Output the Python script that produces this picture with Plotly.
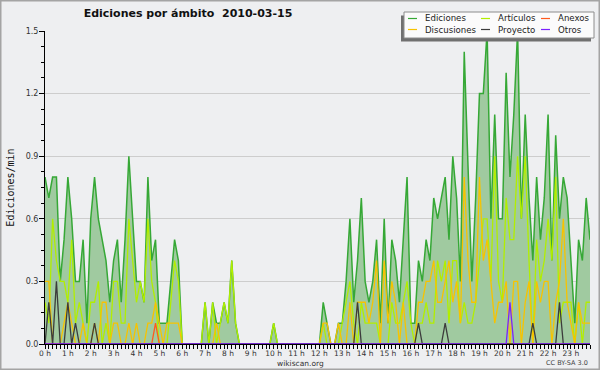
import plotly.graph_objects as go

# ---------------- data (values in edits per minute, 10-minute steps) ----------------
DAY = "2010-03-15"
times = [f"{DAY} {i // 6:02d}:{(i % 6) * 10:02d}" for i in range(144)]
hour_labels = [f"{h} h" for h in range(24)]
y_ticks = [0.0, 0.3, 0.6, 0.9, 1.2, 1.5]

ediciones = [
    0.8, 0.7, 0.8, 0.8, 0.3, 0.5, 0.8, 0.6, 0.3, 0.3, 0.5, 0.1,
    0.6, 0.8, 0.6, 0.5, 0.4, 0.2, 0.4, 0.5, 0.2, 0.5, 0.9, 0.6,
    0.3, 0.3, 0.2, 0.8, 0.4, 0.5, 0.1, 0.1, 0.1, 0.3, 0.5, 0.4,
    0.0, 0.0, 0.0, 0.0, 0.0, 0.0, 0.2, 0.0, 0.2, 0.1, 0.1, 0.2,
    0.1, 0.4, 0.1, 0.0, 0.0, 0.0, 0.0, 0.0, 0.0, 0.0, 0.0, 0.0,
    0.1, 0.0, 0.0, 0.0, 0.0, 0.0, 0.0, 0.0, 0.0, 0.0, 0.0, 0.0,
    0.0, 0.2, 0.1, 0.0, 0.0, 0.1, 0.1, 0.3, 0.6, 0.2, 0.4, 0.7,
    0.3, 0.2, 0.3, 0.5, 0.1, 0.6, 0.1, 0.5, 0.4, 0.2, 0.5, 0.8,
    0.1, 0.1, 0.4, 0.3, 0.5, 0.4, 0.7, 0.6, 0.7, 0.8, 0.5, 0.9,
    0.7, 0.3, 1.4, 0.8, 0.3, 0.7, 1.2, 1.2, 1.5, 0.6, 1.1, 0.6,
    0.6, 1.3, 0.8, 1.1, 1.5, 0.6, 1.1, 0.7, 0.4, 0.8, 0.5, 0.7,
    1.1, 0.4, 1.0, 0.6, 0.8, 0.7, 0.4, 0.1, 0.5, 0.4, 0.7, 0.5,
]

articulos = [
    0.2, 0.1, 0.6, 0.4, 0.3, 0.3, 0.2, 0.5, 0.1, 0.2, 0.1, 0.0,
    0.2, 0.2, 0.3, 0.0, 0.1, 0.0, 0.3, 0.3, 0.1, 0.1, 0.6, 0.4,
    0.2, 0.3, 0.2, 0.6, 0.3, 0.2, 0.0, 0.0, 0.0, 0.2, 0.4, 0.3,
    0.0, 0.0, 0.0, 0.0, 0.0, 0.0, 0.2, 0.0, 0.2, 0.0, 0.1, 0.2,
    0.1, 0.4, 0.1, 0.0, 0.0, 0.0, 0.0, 0.0, 0.0, 0.0, 0.0, 0.0,
    0.1, 0.0, 0.0, 0.0, 0.0, 0.0, 0.0, 0.0, 0.0, 0.0, 0.0, 0.0,
    0.0, 0.1, 0.0, 0.0, 0.0, 0.0, 0.1, 0.2, 0.3, 0.1, 0.0, 0.2,
    0.1, 0.1, 0.1, 0.1, 0.0, 0.0, 0.0, 0.2, 0.1, 0.1, 0.2, 0.3,
    0.1, 0.0, 0.1, 0.1, 0.2, 0.1, 0.1, 0.4, 0.3, 0.4, 0.1, 0.4,
    0.4, 0.1, 0.2, 0.1, 0.1, 0.2, 0.4, 0.6, 0.6, 0.3, 0.9, 0.3,
    0.2, 0.7, 0.5, 0.5, 0.9, 0.6, 0.9, 0.4, 0.0, 0.5, 0.3, 0.4,
    0.6, 0.4, 0.8, 0.1, 0.2, 0.2, 0.2, 0.0, 0.2, 0.0, 0.2, 0.2,
]

discusiones = [
    0.3, 0.3, 0.0, 0.0, 0.0, 0.1, 0.2, 0.1, 0.0, 0.0, 0.1, 0.0,
    0.0, 0.1, 0.0, 0.2, 0.2, 0.0, 0.1, 0.1, 0.0, 0.0, 0.1, 0.0,
    0.1, 0.0, 0.0, 0.1, 0.1, 0.2, 0.1, 0.0, 0.1, 0.1, 0.1, 0.1,
    0.0, 0.0, 0.0, 0.0, 0.0, 0.0, 0.0, 0.0, 0.0, 0.1, 0.0, 0.0,
    0.0, 0.0, 0.0, 0.0, 0.0, 0.0, 0.0, 0.0, 0.0, 0.0, 0.0, 0.0,
    0.0, 0.0, 0.0, 0.0, 0.0, 0.0, 0.0, 0.0, 0.0, 0.0, 0.0, 0.0,
    0.0, 0.1, 0.1, 0.0, 0.0, 0.1, 0.0, 0.0, 0.2, 0.0, 0.2, 0.2,
    0.2, 0.1, 0.2, 0.4, 0.0, 0.4, 0.1, 0.3, 0.2, 0.0, 0.2, 0.0,
    0.0, 0.0, 0.2, 0.2, 0.3, 0.3, 0.4, 0.2, 0.2, 0.3, 0.4, 0.2,
    0.3, 0.1, 0.8, 0.4, 0.2, 0.2, 0.8, 0.4, 0.5, 0.3, 0.1, 0.2,
    0.2, 0.3, 0.0, 0.3, 0.3, 0.0, 0.2, 0.3, 0.0, 0.3, 0.2, 0.3,
    0.3, 0.0, 0.2, 0.3, 0.6, 0.2, 0.1, 0.0, 0.2, 0.1, 0.1, 0.1,
]

anexos = [
    0.0, 0.0, 0.0, 0.0, 0.0, 0.0, 0.0, 0.0, 0.0, 0.0, 0.0, 0.0,
    0.0, 0.0, 0.0, 0.0, 0.0, 0.0, 0.0, 0.0, 0.0, 0.0, 0.0, 0.0,
    0.0, 0.0, 0.0, 0.0, 0.0, 0.1, 0.0, 0.0, 0.0, 0.0, 0.0, 0.0,
    0.0, 0.0, 0.0, 0.0, 0.0, 0.0, 0.0, 0.0, 0.0, 0.0, 0.0, 0.0,
    0.0, 0.0, 0.0, 0.0, 0.0, 0.0, 0.0, 0.0, 0.0, 0.0, 0.0, 0.0,
    0.0, 0.0, 0.0, 0.0, 0.0, 0.0, 0.0, 0.0, 0.0, 0.0, 0.0, 0.0,
    0.0, 0.0, 0.0, 0.0, 0.0, 0.0, 0.0, 0.0, 0.0, 0.0, 0.0, 0.0,
    0.0, 0.0, 0.0, 0.0, 0.0, 0.0, 0.0, 0.0, 0.0, 0.0, 0.0, 0.0,
    0.0, 0.0, 0.0, 0.0, 0.0, 0.0, 0.0, 0.0, 0.0, 0.0, 0.0, 0.0,
    0.0, 0.0, 0.0, 0.0, 0.0, 0.0, 0.0, 0.0, 0.0, 0.0, 0.0, 0.0,
    0.0, 0.0, 0.0, 0.0, 0.0, 0.0, 0.0, 0.0, 0.0, 0.0, 0.0, 0.0,
    0.0, 0.0, 0.0, 0.0, 0.0, 0.0, 0.0, 0.0, 0.0, 0.0, 0.0, 0.0,
]

proyecto = [
    0.0, 0.2, 0.0, 0.3, 0.0, 0.0, 0.2, 0.0, 0.1, 0.0, 0.0, 0.0,
    0.0, 0.1, 0.0, 0.0, 0.0, 0.0, 0.0, 0.0, 0.0, 0.0, 0.0, 0.0,
    0.0, 0.0, 0.0, 0.0, 0.0, 0.0, 0.0, 0.0, 0.0, 0.0, 0.0, 0.0,
    0.0, 0.0, 0.0, 0.0, 0.0, 0.0, 0.0, 0.0, 0.0, 0.0, 0.0, 0.0,
    0.0, 0.0, 0.0, 0.0, 0.0, 0.0, 0.0, 0.0, 0.0, 0.0, 0.0, 0.0,
    0.0, 0.0, 0.0, 0.0, 0.0, 0.0, 0.0, 0.0, 0.0, 0.0, 0.0, 0.0,
    0.0, 0.0, 0.0, 0.0, 0.0, 0.0, 0.0, 0.0, 0.0, 0.0, 0.2, 0.0,
    0.0, 0.0, 0.0, 0.0, 0.0, 0.0, 0.0, 0.0, 0.0, 0.0, 0.0, 0.0,
    0.0, 0.0, 0.1, 0.0, 0.0, 0.0, 0.0, 0.0, 0.0, 0.1, 0.0, 0.0,
    0.0, 0.0, 0.0, 0.0, 0.0, 0.0, 0.0, 0.0, 0.0, 0.0, 0.0, 0.0,
    0.0, 0.0, 0.0, 0.0, 0.0, 0.0, 0.0, 0.0, 0.1, 0.0, 0.0, 0.0,
    0.0, 0.0, 0.0, 0.2, 0.0, 0.0, 0.0, 0.0, 0.0, 0.0, 0.0, 0.0,
]

otros = [
    0.0, 0.0, 0.0, 0.0, 0.0, 0.0, 0.0, 0.0, 0.0, 0.0, 0.0, 0.0,
    0.0, 0.0, 0.0, 0.0, 0.0, 0.0, 0.0, 0.0, 0.0, 0.0, 0.0, 0.0,
    0.0, 0.0, 0.0, 0.0, 0.0, 0.0, 0.0, 0.0, 0.0, 0.0, 0.0, 0.0,
    0.0, 0.0, 0.0, 0.0, 0.0, 0.0, 0.0, 0.0, 0.0, 0.0, 0.0, 0.0,
    0.0, 0.0, 0.0, 0.0, 0.0, 0.0, 0.0, 0.0, 0.0, 0.0, 0.0, 0.0,
    0.0, 0.0, 0.0, 0.0, 0.0, 0.0, 0.0, 0.0, 0.0, 0.0, 0.0, 0.0,
    0.0, 0.0, 0.0, 0.0, 0.0, 0.0, 0.0, 0.0, 0.0, 0.0, 0.0, 0.0,
    0.0, 0.0, 0.0, 0.0, 0.0, 0.0, 0.0, 0.0, 0.0, 0.0, 0.0, 0.0,
    0.0, 0.0, 0.0, 0.0, 0.0, 0.0, 0.0, 0.0, 0.0, 0.0, 0.0, 0.0,
    0.0, 0.0, 0.0, 0.0, 0.0, 0.0, 0.0, 0.0, 0.0, 0.0, 0.0, 0.0,
    0.0, 0.0, 0.2, 0.0, 0.0, 0.0, 0.0, 0.0, 0.0, 0.0, 0.0, 0.0,
    0.0, 0.0, 0.0, 0.0, 0.0, 0.0, 0.0, 0.0, 0.0, 0.0, 0.0, 0.0,
]

# ---------------- styling ----------------
W, H = 600, 370
ML, MR, MT, MB = 45, 10, 31, 26
PW, PH = W - ML - MR, H - MT - MB
BG = "#eeeff1"
FONT = "DejaVu Sans"

def px(x):
    return (x - ML) / PW

def py(y):
    return (MT + PH - y) / PH

series = [
    # name, values, color, width
    ("Artículos", articulos, "#b2ee00", 1.3),
    ("Discusiones", discusiones, "#f7c300", 1.3),
    ("Anexos", anexos, "#ff5a1e", 1.3),
    ("Proyecto", proyecto, "#3c3c3c", 1.3),
    ("Otros", otros, "#7a22ff", 1.3),
]
ED_LINE = "#36a836"
ED_FILL = "#a0caa0"

fig = go.Figure()
fig.add_trace(go.Scatter(
    x=times, y=ediciones, name="Ediciones", mode="lines",
    line=dict(color=ED_LINE, width=1.5), fill="tozeroy", fillcolor=ED_FILL,
    showlegend=False,
))
for name, vals, color, width in series:
    fig.add_trace(go.Scatter(
        x=times, y=vals, name=name, mode="lines",
        line=dict(color=color, width=width), showlegend=False,
    ))

tick_text = [hour_labels[i // 6] if i % 6 == 0 else "" for i in range(len(times))]

fig.update_layout(
    width=W, height=H,
    margin=dict(l=ML, r=MR, t=MT, b=MB, autoexpand=False),
    paper_bgcolor=BG, plot_bgcolor=BG,
    font=dict(family=FONT, size=8, color="#333"),
    title=dict(
        text="<b>Ediciones por ámbito\u00a0 2010-03-15</b>",
        x=188 / W, xanchor="center", xref="container",
        y=1 - 13.5 / H, yanchor="middle", yref="container",
        font=dict(family=FONT, size=11, color="#111"),
    ),
    xaxis=dict(
        type="date", range=[times[0], times[-1]],
        tickmode="array", tickvals=times, ticktext=tick_text,
        ticks="outside", ticklen=4, tickcolor="#000", tickwidth=1,
        showline=True, linecolor="#000", linewidth=1,
        showgrid=False, zeroline=False,
        tickfont=dict(family=FONT, size=7.5, color="#333"),
        ticklabelstandoff=-2,
    ),
    yaxis=dict(
        range=[0, 1.5], tickmode="array", tickvals=y_ticks,
        ticktext=[f"{v:.1f}" for v in y_ticks],
        ticks="outside", ticklen=5, tickcolor="#000", tickwidth=1,
        minor=dict(dtick=0.075, ticks="outside", ticklen=3, tickcolor="#000",
                   tickwidth=1, showgrid=False),
        showline=True, linecolor="#000", linewidth=1,
        showgrid=True, gridcolor="#cdcdcd", gridwidth=1, zeroline=False,
        tickfont=dict(family=FONT, size=8, color="#333"),
        ticklabelstandoff=-1,
        title=dict(text="Ediciones/min", standoff=9,
                   font=dict(family="DejaVu Sans Mono", size=10, color="#111")),
    ),
)

shapes = []
# image frame
shapes.append(dict(type="rect", xref="paper", yref="paper",
                   x0=px(0.75), x1=px(W - 0.75), y0=py(H - 0.75), y1=py(0.75),
                   line=dict(color="#a4a4a4", width=1.5), fillcolor="rgba(0,0,0,0)",
                   layer="above"))
# legend shadow and box
shapes.append(dict(type="rect", xref="paper", yref="paper",
                   x0=px(401), x1=px(591), y0=py(41.5), y1=py(15.5),
                   line=dict(width=0), fillcolor="#707070", layer="above"))
shapes.append(dict(type="rect", xref="paper", yref="paper",
                   x0=px(404), x1=px(594), y0=py(38), y1=py(12),
                   line=dict(color="#8c8c8c", width=1), fillcolor="#fbfbfb",
                   layer="above"))

legend_entries = [("Ediciones", ED_LINE)] + [(s[0], s[2]) for s in series]
legend_order = ["Ediciones", "Artículos", "Anexos", "Discusiones", "Proyecto", "Otros"]
col_pos = [(408, 417, 423), (481, 490, 496), (541, 550, 556)]
row_pos = [18.5, 29.5]
color_of = dict(legend_entries)
annotations = []
for k, name in enumerate(legend_order):
    r, c = divmod(k, 3)
    lx0, lx1, tx = col_pos[c]
    yy = row_pos[r]
    shapes.append(dict(type="line", xref="paper", yref="paper",
                       x0=px(lx0), x1=px(lx1), y0=py(yy), y1=py(yy),
                       line=dict(color=color_of[name], width=1.2), layer="above"))
    annotations.append(dict(text=name, xref="paper", yref="paper",
                            x=px(tx), y=py(yy), xanchor="left", yanchor="middle",
                            showarrow=False,
                            font=dict(family=FONT, size=8.6, color="#222")))

annotations.append(dict(text="wikiscan.org", xref="paper", yref="paper",
                        x=px(300), y=py(363.5), xanchor="center", yanchor="middle",
                        showarrow=False, font=dict(family=FONT, size=7.5, color="#333")))
annotations.append(dict(text="CC BY-SA 3.0", xref="paper", yref="paper",
                        x=px(590), y=py(363), xanchor="right", yanchor="middle",
                        showarrow=False, font=dict(family=FONT, size=6.5, color="#444")))

fig.update_layout(shapes=shapes, annotations=annotations)
fig.write_html("out.html", config={"displayModeBar": False},
               post_script="document.body.style.margin='0';")
